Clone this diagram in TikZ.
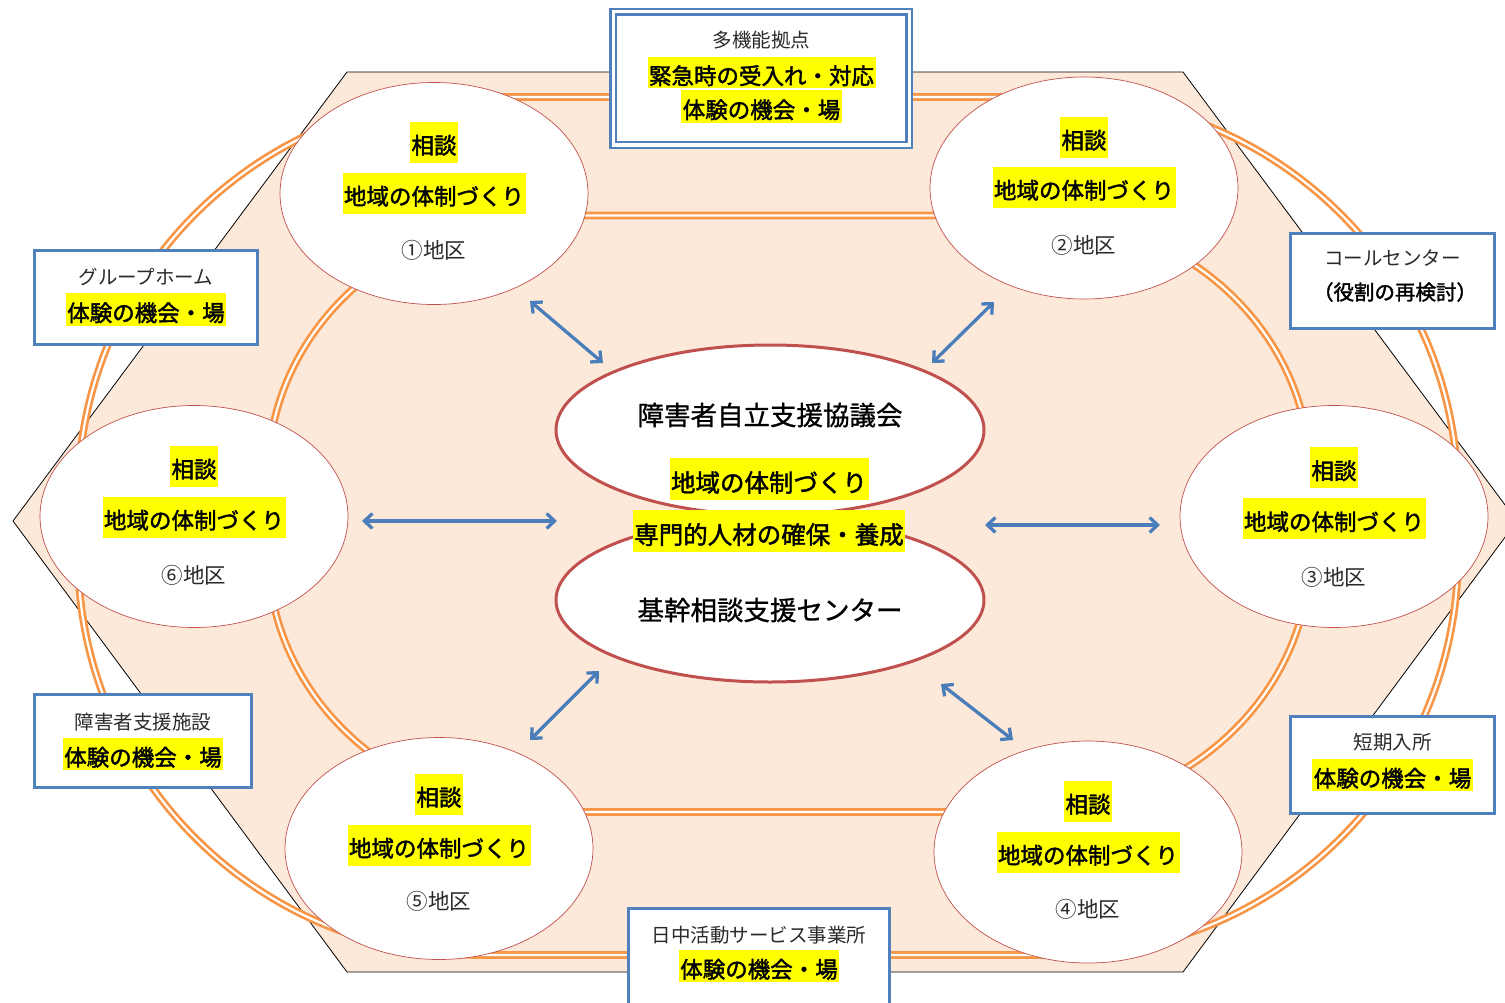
\documentclass[tikz,border=0pt]{standalone}
\usepackage{fontspec}
\setmainfont{Noto Sans CJK JP}
\newfontfamily\hlfont{Noto Sans CJK JP}[FakeBold=1.8]
\newfontfamily\midfont{Noto Sans CJK JP}[FakeBold=1.0]
\usetikzlibrary{shapes.geometric,arrows.meta}
\definecolor{peach}{HTML}{FDE9D9}
\definecolor{ringorange}{HTML}{F79646}
\definecolor{boxblue}{HTML}{4F81BD}
\definecolor{arrowblue}{HTML}{4A7EBB}
\definecolor{ellred}{HTML}{C0504D}
\definecolor{hlyellow}{HTML}{FFFF00}
\definecolor{plaingray}{HTML}{2A2A2A}
\newcommand\fsz[1]{\fontsize{#1}{#1}\selectfont}
\tikzset{
  hexshape/.style={fill=peach, draw=black, line width=0.8pt},
  ringline/.style={draw=ringorange, line width=2.7pt, double=white, double distance=2.2pt},
  district/.style={ellipse, draw=ellred, line width=0.7pt, fill=white, minimum width=308pt, minimum height=222pt, inner sep=0pt},
  hub/.style={ellipse, draw=ellred, line width=3pt, fill=white, minimum width=428pt, inner sep=0pt},
  infobox/.style={rectangle, draw=boxblue, line width=3pt, fill=white, inner sep=0pt},
  link/.style={draw=arrowblue, line width=3.3pt, {Straight Barb[length=8pt,width=15pt]}-{Straight Barb[length=8pt,width=15pt]}},
  hlA/.style={fill=hlyellow, inner xsep=1.5pt, inner ysep=0pt, font=\hlfont\fsz{22.5pt}, text height=23.6pt, text depth=0pt, minimum height=41pt},
  hlB/.style={fill=hlyellow, inner xsep=1.5pt, inner ysep=0pt, font=\hlfont\fsz{22.5pt}, text height=23.6pt, text depth=0pt, minimum height=32pt},
  hlC/.style={fill=hlyellow, inner xsep=1.5pt, inner ysep=0pt, font=\hlfont\fsz{24.5pt}, text height=25.7pt, text depth=0pt, minimum height=42pt},
  txtS/.style={inner sep=0pt, text=plaingray, font=\fsz{19.5pt}, text height=14.8pt, text depth=0pt},
  txtD/.style={inner sep=0pt, text=plaingray, font=\fsz{21.5pt}, text height=16.3pt, text depth=0pt},
  txtT/.style={inner sep=0pt, text=black, font=\midfont\fsz{26.5pt}, text height=20.1pt, text depth=0pt},
  txtB/.style={inner sep=0pt, text=black, font=\hlfont\fsz{20.5pt}, text height=15.6pt, text depth=0pt},
}
\begin{document}
\begin{tikzpicture}[x=1pt,y=-1pt]
\useasboundingbox (0,0) rectangle (1505,1002);
\clip (0,0) rectangle (1505,1002);
\fill[white] (0,0) rectangle (1505,1002);

% hexagon
\path[hexshape] (13,521) -- (347,72) -- (1183,72) -- (1517,521) -- (1183,972) -- (347,972) -- cycle;

% outer ring
\path[ringline] (478,97) -- (1058,97) .. controls (1278.9,97) and (1458,276.1) .. (1458,497)
  -- (1458,555) .. controls (1458,775.9) and (1278.9,955) .. (1058,955)
  -- (478,955) .. controls (257.1,955) and (78,775.9) .. (78,555)
  -- (78,497) .. controls (78,276.1) and (257.1,97) .. cycle;
% inner ring
\path[ringline] (548,215.5) -- (1030,215.5) .. controls (1184.6,215.5) and (1310,331.9) .. (1310,475.5)
  -- (1310,552) .. controls (1310,695.6) and (1184.6,812) .. (1030,812)
  -- (548,812) .. controls (393.4,812) and (268,695.6) .. (268,552)
  -- (268,475.5) .. controls (268,331.9) and (393.4,215.5) .. cycle;

% district ellipses
\node[district] (d1) at (434,193.5) {};
\node[district] (d2) at (1084,188) {};
\node[district] (d3) at (1334,516.5) {};
\node[district] (d4) at (1088,852) {};
\node[district] (d5) at (439,848.5) {};
\node[district] (d6) at (194,516.5) {};

% hub ellipses
\node[hub, minimum height=164pt] (center) at (770,600) {};
\node[hub, minimum height=170pt] (council) at (770,430) {};

% boxes
\node[rectangle, draw=boxblue, line width=2.3pt, double=white, double distance=3.3pt, fill=white, inner sep=0pt, minimum width=296pt, minimum height=133.25pt] (bTop) at (761.25,78.4) {};
\node[infobox, minimum width=223pt, minimum height=94pt] (bGH) at (146,297.5) {};
\node[infobox, minimum width=204pt, minimum height=95pt] (bCall) at (1392.5,281) {};
\node[infobox, minimum width=204pt, minimum height=97pt] (bShort) at (1392.5,765) {};
\node[infobox, minimum width=217pt, minimum height=93pt] (bFac) at (143,741) {};
\node[infobox, minimum width=261pt, minimum height=103pt] (bDay) at (759,960) {};

% arrows
\coordinate (a1a) at (530,301); \coordinate (a1b) at (603,363);
\coordinate (a2a) at (994,302); \coordinate (a2b) at (932,363);
\coordinate (a3a) at (362,521); \coordinate (a3b) at (557,521);
\coordinate (a4a) at (985,525); \coordinate (a4b) at (1160,525);
\coordinate (a5a) at (599,671); \coordinate (a5b) at (530,740);
\coordinate (a6a) at (941,684); \coordinate (a6b) at (1013,740);
\draw[link] (a1a) -- (a1b);
\draw[link] (a2a) -- (a2b);
\draw[link] (a3a) -- (a3b);
\draw[link] (a4a) -- (a4b);
\draw[link] (a5a) -- (a5b);
\draw[link] (a6a) -- (a6b);

% district texts
\node[hlA] (d1s) at (434,142) {相談};
\node[hlA] (d1t) at (434,193) {地域の体制づくり};
\node[txtD] (d1n) at (434,250) {①地区};
\node[hlA] (d2s) at (1084,137) {相談};
\node[hlA] (d2t) at (1084,187) {地域の体制づくり};
\node[txtD] (d2n) at (1084,245) {②地区};
\node[hlA] (d3s) at (1334,467.5) {相談};
\node[hlA] (d3t) at (1334,518.5) {地域の体制づくり};
\node[txtD] (d3n) at (1334,577) {③地区};
\node[hlA] (d4s) at (1088,801) {相談};
\node[hlA] (d4t) at (1088,852) {地域の体制づくり};
\node[txtD] (d4n) at (1088,909) {④地区};
\node[hlA] (d5s) at (439,794) {相談};
\node[hlA] (d5t) at (439,845) {地域の体制づくり};
\node[txtD] (d5n) at (439,901) {⑤地区};
\node[hlA] (d6s) at (194,466) {相談};
\node[hlA] (d6t) at (194,517) {地域の体制づくり};
\node[txtD] (d6n) at (194,575) {⑥地区};

% hub texts
\node[txtT] (councilT) at (770,415) {障害者自立支援協議会};
\node[hlC] (hubA) at (769,479) {地域の体制づくり};
\node[hlC] (hubB) at (769,531) {専門的人材の確保・養成};
\node[txtT] (centerT) at (770,610) {基幹相談支援センター};

% box texts
\node[txtS] (bTopT) at (761.5,40) {多機能拠点};
\node[hlB, minimum height=31pt] (bTopA) at (761.5,72.5) {緊急時の受入れ・対応};
\node[hlB, minimum height=33pt] (bTopB) at (761.5,106.5) {体験の機会・場};
\node[txtS] (bGHT) at (146,277) {グループホーム};
\node[hlB, minimum height=33pt] (bGHA) at (146,309.5) {体験の機会・場};
\node[txtS] (bCallT) at (1392.5,258) {コールセンター};
\node[txtB] (bCallA) at (1395,292) {（役割の再検討）};
\node[txtS] (bShortT) at (1392.5,742) {短期入所};
\node[hlB] (bShortA) at (1392.5,775) {体験の機会・場};
\node[txtS] (bFacT) at (143,722) {障害者支援施設};
\node[hlB] (bFacA) at (143,754) {体験の機会・場};
\node[txtS] (bDayT) at (759,935) {日中活動サービス事業所};
\node[hlB] (bDayA) at (759,966) {体験の機会・場};
\end{tikzpicture}
\end{document}
